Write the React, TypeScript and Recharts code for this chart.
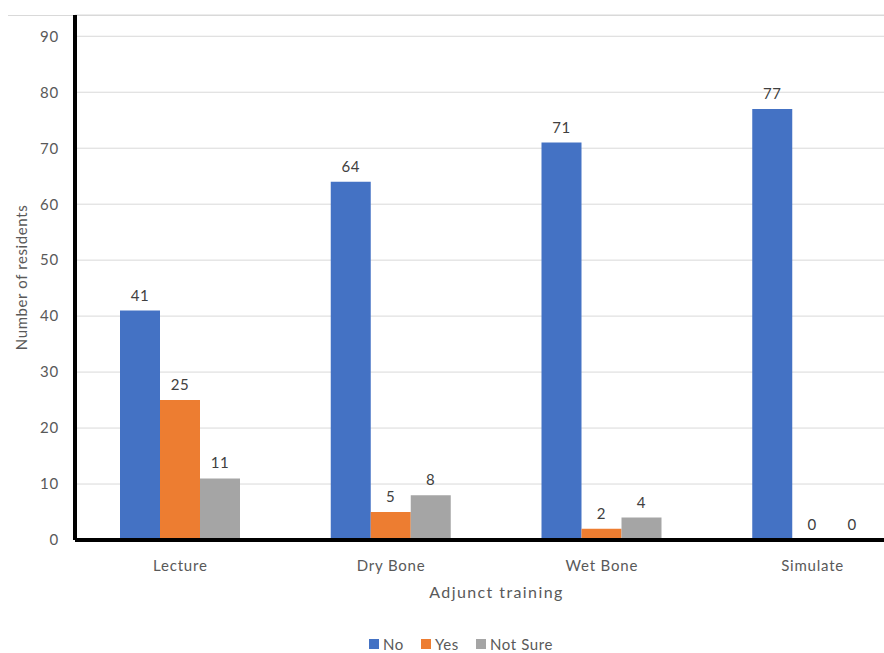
import React from 'react';
import { BarChart, Bar, XAxis, YAxis, CartesianGrid, Legend, LabelList } from 'recharts';

const categories = ['Lecture', 'Dry Bone', 'Wet Bone', 'Simulate'];
const noValues = [41, 64, 71, 77];
const yesValues = [25, 5, 2, 0];
const notSureValues = [11, 8, 4, 0];
const yTicks = [0, 10, 20, 30, 40, 50, 60, 70, 80, 90];

const seriesNames = ['No', 'Yes', 'Not Sure'];
const seriesColors = ['#4472C4', '#ED7D31', '#A5A5A5'];

const data = categories.map((name, i) => ({
    name,
    No: noValues[i],
    Yes: yesValues[i],
    'Not Sure': notSureValues[i],
}));

const font = 'Lato, "Open Sans", sans-serif';
const labelStyle = { fill: '#404040', fontSize: 15, fontFamily: font, letterSpacing: 0.6 };
const tickStyle = { fill: '#595959', fontSize: 15, fontFamily: font, letterSpacing: 0.8 };

const renderLegend = () => (
    <div style={{ display: 'flex', justifyContent: 'center', fontFamily: font, fontSize: 15, color: '#595959', letterSpacing: 0.6, paddingLeft: 20 }}>
        {seriesNames.map((n, i) => (
            <span key={n} style={{ display: 'inline-flex', alignItems: 'center', marginRight: 17 }}>
                <span style={{ display: 'inline-block', width: 10, height: 10, background: seriesColors[i], marginRight: 4 }} />
                {n}
            </span>
        ))}
    </div>
);

const App: React.FC = () => {
    return (
        <div style={{ position: 'absolute', left: 0, top: 0, width: 884, height: 653, overflow: 'hidden', background: '#fff' }}>
            <div style={{ position: 'absolute', left: 8, right: 0, top: 15, height: 1, background: '#d9d9d9' }} />
            <BarChart
                width={930}
                height={653}
                data={data}
                margin={{ top: 15, right: 12, left: 1, bottom: 0 }}
                barGap={0}
                barSize={40}
            >
                <CartesianGrid vertical={false} stroke="#d9d9d9" />
                <XAxis
                    dataKey="name"
                    height={95}
                    axisLine={{ stroke: '#000', strokeWidth: 4 }}
                    tickLine={false}
                    tickMargin={14}
                    tick={tickStyle}
                    label={{ value: 'Adjunct training', position: 'insideTop', offset: 47, style: { fill: '#595959', fontSize: 16, fontFamily: font, letterSpacing: 1.4 } }}
                />
                <YAxis
                    width={74}
                    domain={[0, 93.8]}
                    ticks={yTicks}
                    axisLine={{ stroke: '#000', strokeWidth: 4 }}
                    tickLine={false}
                    tickSize={6}
                    tickMargin={10}
                    tick={tickStyle}
                    label={{ value: 'Number of residents', angle: -90, position: 'insideLeft', offset: 21, style: { textAnchor: 'middle', fill: '#595959', fontSize: 15, fontFamily: font, letterSpacing: 0.6 } }}
                />
                <Legend verticalAlign="bottom" height={18} content={renderLegend} />
                <Bar dataKey="No" fill={seriesColors[0]} isAnimationActive={false} minPointSize={0.001}>
                    <LabelList dataKey="No" position="top" offset={10} style={labelStyle} />
                </Bar>
                <Bar dataKey="Yes" fill={seriesColors[1]} isAnimationActive={false} minPointSize={0.001}>
                    <LabelList dataKey="Yes" position="top" offset={10} style={labelStyle} />
                </Bar>
                <Bar dataKey="Not Sure" fill={seriesColors[2]} isAnimationActive={false} minPointSize={0.001}>
                    <LabelList dataKey="Not Sure" position="top" offset={10} style={labelStyle} />
                </Bar>
            </BarChart>
        </div>
    );
};

export default App;
